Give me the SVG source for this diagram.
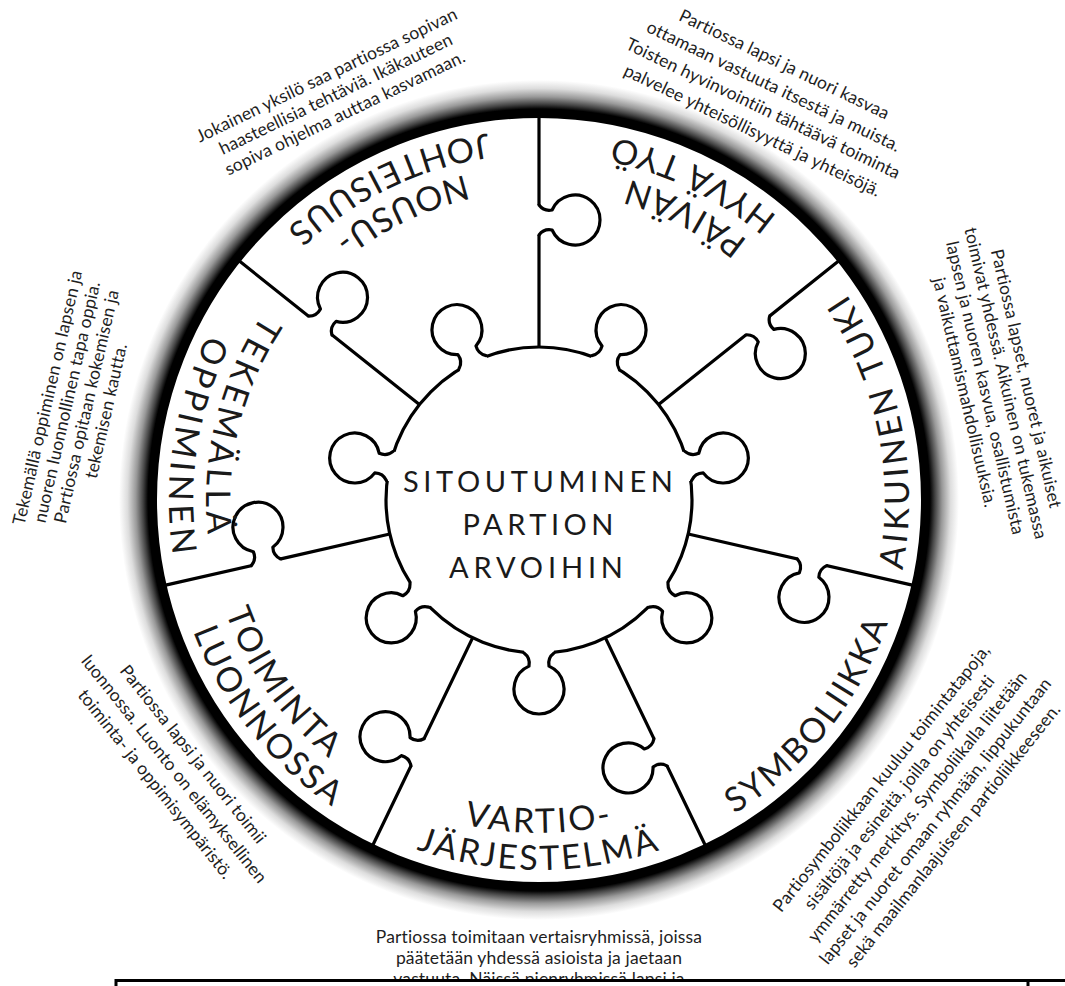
<svg xmlns="http://www.w3.org/2000/svg" width="1065" height="986" viewBox="0 0 1065 986">
<style>
.ln{fill:none;stroke:#000;stroke-width:3.2;stroke-linecap:round;stroke-linejoin:round}
.lab{font-family:Lato,"Liberation Sans",sans-serif;font-size:34px;fill:#1a1a1a;letter-spacing:2.5px;text-anchor:middle}
.wide{letter-spacing:4.6px}
.mid{letter-spacing:3.6px}
.ctr{font-family:Lato,"Liberation Sans",sans-serif;font-size:29px;fill:#1a1a1a;text-anchor:middle}
.desc{font-family:Lato,"Liberation Sans",sans-serif;font-size:17.5px;letter-spacing:0.15px;fill:#1e1e1e;text-anchor:middle}
</style>
<defs>
<radialGradient id="glow" gradientUnits="userSpaceOnUse" cx="539" cy="500" r="420">
<stop offset="0.9" stop-color="#000"/>
<stop offset="0.931" stop-color="#000"/>
<stop offset="0.943" stop-color="#444"/>
<stop offset="0.96" stop-color="#999"/>
<stop offset="0.98" stop-color="#ddd"/>
<stop offset="1" stop-color="#fff"/>
</radialGradient>
<g id="knob">
<path d="M-15,4 L-15,0 C-11,-3 -9,-8 -10,-13.1 A25,25 0 1 1 10,-13.1 C9,-8 11,-3 15,0 L15,4 Z" fill="#fff"/>
<path class="ln" d="M-15,0 C-11,-3 -9,-8 -10,-13.1 A25,25 0 1 1 10,-13.1 C9,-8 11,-3 15,0"/>
</g>
<path id="pN1" d="M771.6,261.7 A333,333 0 0 0 207.7,533.1"/>
<path id="pN2" d="M797.4,235.2 A370,370 0 0 0 170.8,536.8"/>
<path id="pP1" d="M870.3,533.1 A333,333 0 0 0 306.4,261.7"/>
<path id="pP2" d="M907.2,536.8 A370,370 0 0 0 280.6,235.2"/>
<path id="pA2" d="M739.8,810.8 A370,370 0 0 0 585.0,132.9"/>
<path id="pS2" d="M421.2,850.7 A370,370 0 0 0 854.7,307.1"/>
<path id="pV1" d="M226.1,613.9 A333,333 0 0 0 851.9,613.9"/>
<path id="pV2" d="M191.3,626.5 A370,370 0 0 0 886.7,626.5"/>
<path id="pT1" d="M254.9,326.4 A333,333 0 0 0 645.1,815.6"/>
<path id="pT2" d="M223.3,307.1 A370,370 0 0 0 656.8,850.7"/>
<path id="pK1" d="M497.6,169.6 A333,333 0 0 0 358.3,779.7"/>
<path id="pK2" d="M493.0,132.9 A370,370 0 0 0 338.2,810.8"/>
</defs>
<rect width="1065" height="986" fill="#fff"/>
<g id="ring">
<circle cx="539" cy="500" r="420" fill="url(#glow)"/>
<circle cx="539" cy="500" r="386" fill="#fff" stroke="#000" stroke-width="8"/>
</g>
<g id="connectors">
<line class="ln" x1="539" y1="347" x2="539" y2="116"/>
<line class="ln" x1="658.6" y1="404.6" x2="839.2" y2="260.6"/>
<line class="ln" x1="688.2" y1="534.0" x2="913.4" y2="585.4"/>
<line class="ln" x1="605.4" y1="637.9" x2="705.6" y2="846.0"/>
<line class="ln" x1="472.6" y1="637.9" x2="372.4" y2="846.0"/>
<line class="ln" x1="389.8" y1="534.0" x2="164.6" y2="585.4"/>
<line class="ln" x1="419.4" y1="404.6" x2="238.8" y2="260.6"/>
<use href="#knob" transform="translate(539,220) rotate(90)"/>
<use href="#knob" transform="translate(757.9,325.4) rotate(141.43)"/>
<use href="#knob" transform="translate(812.0,562.3) rotate(192.86)"/>
<use href="#knob" transform="translate(660.5,752.3) rotate(244.29)"/>
<use href="#knob" transform="translate(417.5,752.3) rotate(295.71)"/>
<use href="#knob" transform="translate(266.0,562.3) rotate(347.14)"/>
<use href="#knob" transform="translate(320.1,325.4) rotate(38.57)"/>
</g>
<g id="center-node">
<circle cx="539" cy="500" r="153" class="ln" style="fill:#fff"/>
<use href="#knob" transform="translate(605.4,362.1) rotate(25.71)"/>
<use href="#knob" transform="translate(688.2,466.0) rotate(77.14)"/>
<use href="#knob" transform="translate(658.6,595.4) rotate(128.57)"/>
<use href="#knob" transform="translate(539,653) rotate(180)"/>
<use href="#knob" transform="translate(419.4,595.4) rotate(231.43)"/>
<use href="#knob" transform="translate(389.8,466.0) rotate(282.86)"/>
<use href="#knob" transform="translate(472.6,362.1) rotate(334.29)"/>
<text class="ctr" x="538" y="492" textLength="270" lengthAdjust="spacing">SITOUTUMINEN</text>
<text class="ctr" x="538" y="535" textLength="151" lengthAdjust="spacing">PARTION</text>
<text class="ctr" x="536" y="578" textLength="174" lengthAdjust="spacing">ARVOIHIN</text>
</g>
<g id="sector-nousujohtajuus">
<text class="lab"><textPath href="#pN1" startOffset="50%">NOUSU-</textPath></text>
<text class="lab"><textPath href="#pN2" startOffset="50%">JOHTEISUUS</textPath></text>
<g transform="rotate(-25.71 539 500)">
<text class="desc" x="532" y="31">Jokainen yksilö saa partiossa sopivan</text>
<text class="desc" x="532" y="52">haasteellisia tehtäviä. Ikäkauteen</text>
<text class="desc" x="532" y="73">sopiva ohjelma auttaa kasvamaan.</text>
</g>
</g>
<g id="sector-paivan-hyva-tyo">
<text class="lab"><textPath href="#pP1" startOffset="49%">PÄIVÄN</textPath></text>
<text class="lab"><textPath href="#pP2" startOffset="50%">HYVÄ TYÖ</textPath></text>
<g transform="rotate(25.71 539 500)">
<text class="desc" x="571" y="7">Partiossa lapsi ja nuori kasvaa</text>
<text class="desc" x="571" y="31.5">ottamaan vastuuta itsestä ja muista.</text>
<text class="desc" x="571" y="56">Toisten hyvinvointiin tähtäävä toiminta</text>
<text class="desc" x="571" y="80.5">palvelee yhteisöllisyyttä ja yhteisöjä.</text>
</g>
</g>
<g id="sector-aikuinen-tuki">
<text class="lab mid"><textPath href="#pA2" startOffset="49.2%">AIKUINEN TUKI</textPath></text>
<g transform="rotate(77.14 539 500)">
<text class="desc" x="529" y="4">Partiossa lapset, nuoret ja aikuiset</text>
<text class="desc" x="529" y="25">toimivat yhdessä. Aikuinen on tukemassa</text>
<text class="desc" x="529" y="46">lapsen ja nuoren kasvua, osallistumista</text>
<text class="desc" x="529" y="67">ja vaikuttamismahdollisuuksia.</text>
</g>
</g>
<g id="sector-symboliikka">
<text class="lab"><textPath href="#pS2" startOffset="50%">SYMBOLIIKKA</textPath></text>
<g transform="rotate(-51.43 539 500)">
<text class="desc" x="535" y="947">Partiosymboliikkaan kuuluu toimintatapoja,</text>
<text class="desc" x="535" y="970">sisältöjä ja esineitä, joilla on yhteisesti</text>
<text class="desc" x="535" y="993">ymmärretty merkitys. Symboliikalla liitetään</text>
<text class="desc" x="535" y="1016">lapset ja nuoret omaan ryhmään, lippukuntaan</text>
<text class="desc" x="535" y="1039">sekä maailmanlaajuiseen partioliikkeeseen.</text>
</g>
</g>
<g id="sector-vartiojarjestelma">
<text class="lab"><textPath href="#pV1" startOffset="50%">VARTIO-</textPath></text>
<text class="lab"><textPath href="#pV2" startOffset="50%">JÄRJESTELMÄ</textPath></text>
<text class="desc" x="539" y="943">Partiossa toimitaan vertaisryhmissä, joissa</text>
<text class="desc" x="539" y="964">päätetään yhdessä asioista ja jaetaan</text>
<text class="desc" x="539" y="985">vastuuta. Näissä pienryhmissä lapsi ja</text>
</g>
<g id="sector-toiminta-luonnossa">
<text class="lab"><textPath href="#pT1" startOffset="47.8%">TOIMINTA</textPath></text>
<text class="lab"><textPath href="#pT2" startOffset="50%">LUONNOSSA</textPath></text>
<g transform="rotate(51.43 539 500)">
<text class="desc" x="522" y="935">Partiossa lapsi ja nuori toimii</text>
<text class="desc" x="522" y="959">luonnossa. Luonto on elämyksellinen</text>
<text class="desc" x="522" y="983">toiminta- ja oppimisympäristö.</text>
</g>
</g>
<g id="sector-tekemalla-oppiminen">
<text class="lab wide"><textPath href="#pK1" startOffset="49.5%">TEKEMÄLLÄ</textPath></text>
<text class="lab wide"><textPath href="#pK2" startOffset="53%">OPPIMINEN</textPath></text>
<g transform="rotate(-77.14 539 500)">
<text class="desc" x="529.5" y="4">Tekemällä oppiminen on lapsen ja</text>
<text class="desc" x="529.5" y="24">nuoren luonnollinen tapa oppia.</text>
<text class="desc" x="529.5" y="44">Partiossa opitaan kokemisen ja</text>
<text class="desc" x="529.5" y="64">tekemisen kautta.</text>
</g>
</g>
<g id="table-box">
<rect x="116" y="980.5" width="1000" height="40" fill="#fff" stroke="#000" stroke-width="3"/>
<line x1="1028" y1="980" x2="1028" y2="986" stroke="#000" stroke-width="3"/>
</g>
</svg>
